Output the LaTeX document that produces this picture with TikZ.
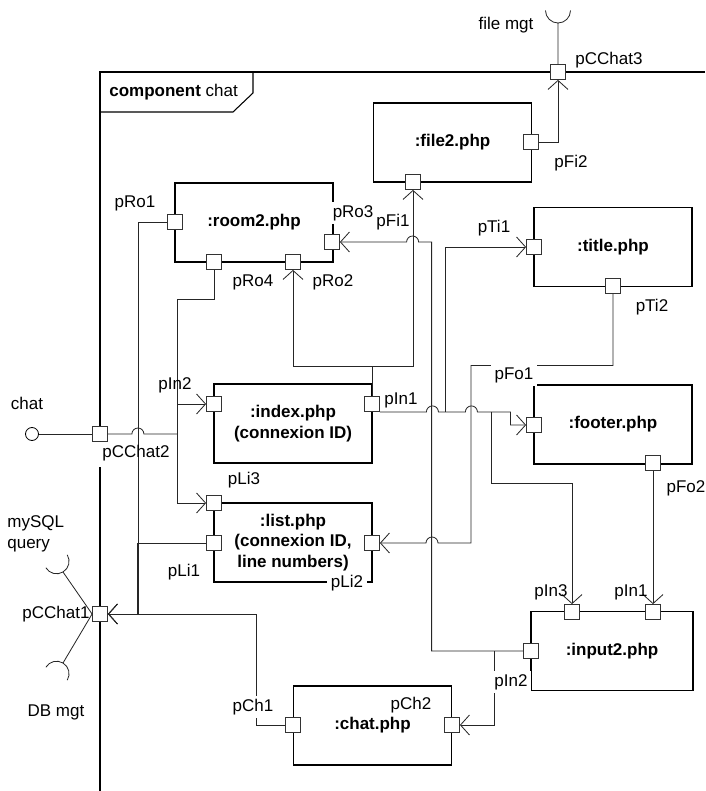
\documentclass[tikz,border=0pt]{standalone}
\usepackage{fontspec}
\setmainfont{Liberation Sans}
\usetikzlibrary{arrows.meta,positioning}
\newcommand{\lblsize}{\fontsize{14.5}{17.5}\selectfont}
\tikzset{
  comp/.style={draw,line width=1.3pt,minimum width=4.74cm,minimum height=2.37cm,inner sep=0pt,align=center,font=\lblsize\bfseries},
  port/.style={draw=black!80,fill=white,line width=0.7pt,minimum size=0.45cm,inner sep=0pt},
  wire/.style={draw=black!85,line width=0.7pt},
  arr/.style={wire,-{Straight Barb[length=0.27cm,width=0.6cm]}},
  frame/.style={line width=0.9pt},
  lbl/.style={font=\lblsize,inner sep=1pt},
  lblw/.style={lbl,fill=white,inner sep=3pt}
}

\begin{document}
\begin{tikzpicture}[x=0.03cm,y=-0.03cm]
\useasboundingbox (0,0) rectangle (705,791);
% frame of component chat
\draw[frame] (705,72) -- (100,72) -- (100,441);
\draw[frame] (100,467) -- (100,791);
\draw[frame] (100,112) -- (233,112) -- (253,93) -- (253,72);
\node[lbl,anchor=west] (tFrame) at (108,92) {\textbf{component} chat};

% parts
\node[comp] (file2) at (452.5,142.5) {:file2.php};
\node[comp] (room2) at (254,222.5) {:room2.php};
\node[comp] (title) at (613,247) {:title.php};
\node[comp] (index) at (293,423.5) {:index.php\\(connexion ID)};
\node[comp] (footer) at (613,424.5) {:footer.php};
\node[comp] (list) at (293,542.5) {:list.php\\(connexion ID,\\line numbers)};
\node[comp,minimum width=4.86cm] (input2) at (612,651) {:input2.php};
\node[comp] (chat) at (372.5,725.5) {:chat.php};

% ports
\node[port] (pCChat3) at (558,72) {};
\node[port] (pCChat2) at (100,434) {};
\node[port] (pCChat1) at (100,614) {};
\node[port] (pFi2) at (531,142) {};
\node[port] (pFi1) at (413,182) {};
\node[port] (pRo1) at (175,222) {};
\node[port] (pRo3) at (332,242) {};
\node[port] (pRo4) at (214,262) {};
\node[port] (pRo2) at (293,262) {};
\node[port] (pTi1) at (534,247) {};
\node[port] (pTi2) at (613,286) {};
\node[port] (pIn2) at (214,404) {};
\node[port] (pIn1) at (372,404) {};
\node[port] (pFo1) at (534,425) {};
\node[port] (pFo2) at (653,463) {};
\node[port] (pLi3) at (214,503) {};
\node[port] (pLi1) at (214,543) {};
\node[port] (pLi2) at (372,543) {};
\node[port] (pInp3) at (572,612) {};
\node[port] (pInp1) at (653,612) {};
\node[port] (pInp2) at (531,651) {};
\node[port] (pCh1) at (293,725) {};
\node[port] (pCh2) at (452,725) {};

% interfaces
\node[draw,circle,line width=0.7pt,minimum size=0.39cm,inner sep=0pt] (chatIf) at (32,434) {};
\coordinate (sFile) at (558,23);
\coordinate (sSql) at (63,572);
\coordinate (sDb) at (63,663);
\draw[wire] (chatIf.east) -- (pCChat2.west);
\draw[wire] (pCChat3.north) -- (sFile) arc[start angle=90,end angle=0,radius=12.5]
  (sFile) arc[start angle=90,end angle=180,radius=12.5];
\draw[wire] (pCChat1.west) -- (sSql) arc[start angle=59,end angle=-31,radius=12.5]
  (sSql) arc[start angle=59,end angle=149,radius=12.5];
\draw[wire] (pCChat1.west) -- (sDb) arc[start angle=-59,end angle=31,radius=12.5]
  (sDb) arc[start angle=-59,end angle=-149,radius=12.5];

% junctions
\coordinate (jA) at (177,434);
\coordinate (jB) at (445,411.5);
\coordinate (jC) at (491,411.5);
\coordinate (jD) at (471,543);
\coordinate (jF) at (494,651);

% connectors
\draw[arr] (pFi2.east) -| (pCChat3.south);
\draw[arr] (pRo1.west) -- ++(-29,0) |- (pCChat1.east);
\draw[arr] (pLi1.west) -- ++(-68.5,0) |- (pCChat1.east);
\draw[arr] (pCh1.west) -- ++(-28.5,0) |- (pCChat1.east);
\draw[wire] (pCChat2.east) -- ++(24,0) arc[start angle=180,end angle=360,radius=6] -- (jA);
\draw[wire] (pRo4.south) -- ++(0,29.5) -| (jA);
\draw[arr] (jA) |- (pIn2.west);
\draw[arr] (jA) |- (pLi3.west);
\draw[arr] (pIn1.north) -- ++(0,-29.5) -| (pRo2.south);
\draw[arr] (pIn1.north) -- ++(0,-29.5) -| (pFi1.south);
\draw[arr] (pIn1.south east) -- ++(46.5,0) arc[start angle=180,end angle=360,radius=6]
  -- ++(27,0) arc[start angle=180,end angle=360,radius=6] -- ++(33,0) |- (pFo1.west);
\draw[arr] (jB) |- (pTi1.west);
\draw[arr] (jC) -- ++(0,71.5) -| (pInp3.north);
\draw[arr] (pTi2.south) -- ++(0,71.5) -| (jD) -- ++(-33,0)
  arc[start angle=0,end angle=-180,radius=6] -- (pLi2.east);
\draw[arr] (pInp2.west) -- ++(-91.5,0) -- ++(0,-409) -- ++(-13,0)
  arc[start angle=0,end angle=-180,radius=6] -- (pRo3.east);
\draw[arr] (jF) |- (pCh2.east);
\draw[arr] (pFo2.south) -- (pInp1.north);

% port labels
\node[lbl] (tFmgt) at (506,25) {file mgt};
\node[lbl] (tCChat3) at (609,60) {pCChat3};
\node[lbl] (tFi2) at (571,163) {pFi2};
\node[lbl] (tFi1) at (393,222) {pFi1};
\node[lbl] (tRo1) at (135,203) {pRo1};
\node[lblw,anchor=west] (tRo3) at (329,213) {pRo3};
\node[lbl] (tRo4) at (253,282) {pRo4};
\node[lbl] (tRo2) at (333,282) {pRo2};
\node[lbl] (tTi1) at (494,228) {pTi1};
\node[lbl] (tTi2) at (652,307) {pTi2};
\node[lbl] (tIn2) at (175,385) {pIn2};
\node[lbl] (tIn1) at (401,400) {pIn1};
\node[lblw] (tFo1) at (514,375) {pFo1};
\node[lbl] (tChat) at (27,403) {chat};
\node[lbl] (tCChat2) at (136,453) {pCChat2};
\node[lbl] (tLi3) at (244,480) {pLi3};
\node[lbl] (tFo2) at (686,488) {pFo2};
\node[lbl,align=left,anchor=west] (tSql) at (6,534) {mySQL\\query};
\node[lbl] (tLi1) at (184,572) {pLi1};
\node[lblw] (tLi2) at (347,583) {pLi2};
\node[lbl] (tCChat1) at (56,614) {pCChat1};
\node[lbl] (tInp3) at (551,592) {pIn3};
\node[lbl] (tInp1) at (631,592) {pIn1};
\node[lblw] (tInp2) at (511,682) {pIn2};
\node[lblw] (tCh1) at (253,707) {pCh1};
\node[lbl] (tCh2) at (411,705) {pCh2};
\node[lbl] (tDb) at (56,712) {DB mgt};
\end{tikzpicture}
\end{document}
